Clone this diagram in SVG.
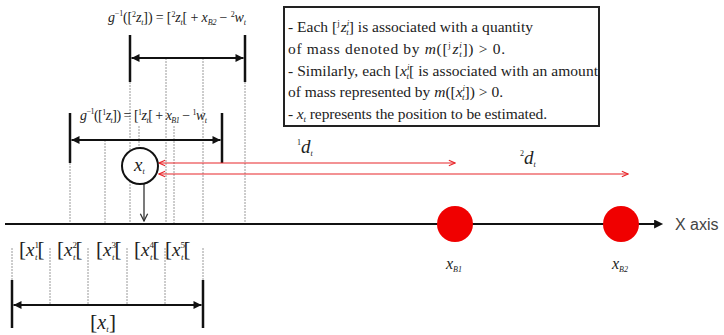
<svg xmlns="http://www.w3.org/2000/svg" width="724" height="335" viewBox="0 0 724 335">
<style>
.m{font-family:"Liberation Serif","Times New Roman",serif;fill:#222}
.it{font-style:italic}
.dot{stroke:#9a9a9a;stroke-width:1;stroke-dasharray:2 1;fill:none}
.thk{stroke:#111;stroke-width:2.5;fill:none}
.br{stroke:#111;stroke-width:2;fill:none;marker-start:url(#ah);marker-end:url(#ah)}
.red{stroke:#e8262a;stroke-width:1.1;fill:none;marker-start:url(#ar);marker-end:url(#ar)}
</style>
<defs>
<marker id="ah" viewBox="0 0 10 10" refX="10" refY="5" markerWidth="5" markerHeight="4" orient="auto-start-reverse" markerUnits="strokeWidth"><path d="M0,0 L10,5 L0,10 z" fill="#111"/></marker>
<marker id="ax" viewBox="0 0 10 10" refX="1" refY="5" markerWidth="5" markerHeight="4.5" orient="auto" markerUnits="strokeWidth"><path d="M0,0 L10,5 L0,10 z" fill="#111"/></marker>
<marker id="ar" viewBox="0 0 10 10" refX="9" refY="5" markerWidth="7" markerHeight="7" orient="auto-start-reverse" markerUnits="strokeWidth"><path d="M1,1.5 L9,5 L1,8.5" fill="none" stroke="#e8262a" stroke-width="1.4"/></marker>
<marker id="ao" viewBox="0 0 10 10" refX="9" refY="5" markerWidth="7" markerHeight="7" orient="auto" markerUnits="strokeWidth"><path d="M1,1 L9,5 L1,9" fill="none" stroke="#333" stroke-width="1.4"/></marker>
</defs>
<rect width="724" height="335" fill="#fff"/>

<g id="guides">
<line class="dot" x1="70" y1="163" x2="70" y2="224"/>
<line class="dot" x1="105" y1="140" x2="105" y2="224"/>
<line class="dot" x1="130" y1="82" x2="130" y2="224"/>
<line class="dot" x1="139" y1="126" x2="139" y2="148"/>
<line class="dot" x1="166" y1="58" x2="166" y2="224"/>
<line class="dot" x1="174" y1="126" x2="174" y2="224"/>
<line class="dot" x1="203" y1="58" x2="203" y2="224"/>
<line class="dot" x1="245" y1="82" x2="245" y2="224"/>
<line class="dot" x1="12" y1="248" x2="12" y2="280"/>
<line class="dot" x1="50" y1="248" x2="50" y2="305"/>
<line class="dot" x1="88" y1="248" x2="88" y2="305"/>
<line class="dot" x1="127" y1="248" x2="127" y2="305"/>
<line class="dot" x1="165" y1="248" x2="165" y2="305"/>
<line class="dot" x1="203" y1="248" x2="203" y2="280"/>
</g>

<g id="interval-g2">
<line class="thk" x1="130" y1="35" x2="130" y2="82"/>
<line class="thk" x1="245" y1="35" x2="245" y2="82"/>
<line class="br" x1="131.5" y1="58" x2="243.5" y2="58"/>
<text class="m" x="108" y="22" font-size="14" textLength="138" lengthAdjust="spacing"><tspan class="it">g</tspan><tspan font-size="8" dy="-6">−1</tspan><tspan dy="6">([</tspan><tspan font-size="8" dy="-5">2</tspan><tspan class="it" dy="5">z</tspan><tspan class="it" font-size="8" dy="3">t</tspan><tspan dy="-3">]) = [</tspan><tspan font-size="8" dy="-5">2</tspan><tspan class="it" dy="5">z</tspan><tspan class="it" font-size="8" dy="3">t</tspan><tspan dy="-3">[ + </tspan><tspan class="it">x</tspan><tspan class="it" font-size="8" dy="3">B2</tspan><tspan dy="-3"> − </tspan><tspan font-size="8" dy="-5">2</tspan><tspan class="it" dy="5">w</tspan><tspan class="it" font-size="8" dy="3">t</tspan></text>
</g>

<g id="interval-g1">
<line class="thk" x1="70" y1="113" x2="70" y2="163"/>
<line class="thk" x1="222" y1="113" x2="222" y2="163"/>
<line class="br" x1="71.5" y1="140" x2="220.5" y2="140"/>
<text class="m" x="80" y="120" font-size="14" textLength="127" lengthAdjust="spacing"><tspan class="it">g</tspan><tspan font-size="8" dy="-6">−1</tspan><tspan dy="6">([</tspan><tspan font-size="8" dy="-5">1</tspan><tspan class="it" dy="5">z</tspan><tspan class="it" font-size="8" dy="3">t</tspan><tspan dy="-3">]) = [</tspan><tspan font-size="8" dy="-5">1</tspan><tspan class="it" dy="5">z</tspan><tspan class="it" font-size="8" dy="3">t</tspan><tspan dy="-3">[ + </tspan><tspan class="it">x</tspan><tspan class="it" font-size="8" dy="3">B1</tspan><tspan dy="-3"> − </tspan><tspan font-size="8" dy="-5">1</tspan><tspan class="it" dy="5">w</tspan><tspan class="it" font-size="8" dy="3">t</tspan></text>
</g>

<g id="x-axis">
<line x1="5" y1="224" x2="655" y2="224" stroke="#111" stroke-width="2" marker-end="url(#ax)"/>
<text x="675" y="230" font-family="Liberation Sans, Arial, sans-serif" font-size="16" fill="#444">X axis</text>
</g>

<g id="connectors">
<line class="red" x1="159" y1="163" x2="455" y2="163"/>
<line class="red" x1="159" y1="174" x2="628" y2="174"/>
<line x1="144" y1="184" x2="144" y2="221" stroke="#333" stroke-width="1.3" marker-end="url(#ao)"/>
<text class="m" x="297" y="153" font-size="19"><tspan font-size="8" dy="-8">1</tspan><tspan class="it" dy="8">d</tspan><tspan class="it" font-size="8" dy="3">t</tspan></text>
<text class="m" x="520" y="164" font-size="19"><tspan font-size="8" dy="-8">2</tspan><tspan class="it" dy="8">d</tspan><tspan class="it" font-size="8" dy="3">t</tspan></text>
</g>

<g id="estimate-xt">
<circle cx="140" cy="166" r="18" fill="#fff" stroke="#111" stroke-width="2"/>
<text class="m" x="134" y="171" font-size="19"><tspan class="it">x</tspan><tspan class="it" font-size="8" dy="3">t</tspan></text>
</g>

<g id="beacon-B1">
<circle cx="455" cy="224" r="18" fill="#f00000"/>
<text class="m" x="446" y="269" font-size="16"><tspan class="it">x</tspan><tspan class="it" font-size="8" dy="3">B1</tspan></text>
</g>

<g id="beacon-B2">
<circle cx="621" cy="224" r="18" fill="#f00000"/>
<text class="m" x="612" y="269" font-size="16"><tspan class="it">x</tspan><tspan class="it" font-size="8" dy="3">B2</tspan></text>
</g>

<g id="info-box">
<rect x="284" y="7" width="315" height="119" fill="#fff" stroke="#222" stroke-width="2"/>
<text class="m" x="288" y="32" font-size="15.5" textLength="245" lengthAdjust="spacing">- Each [<tspan font-size="9" dy="-6">j</tspan><tspan class="it" dx="1" dy="6">z</tspan><tspan class="it" font-size="9" dy="-6">i</tspan><tspan class="it" font-size="9" dx="-3" dy="9">t</tspan><tspan dy="-3">] is associated with a quantity</tspan></text>
<text class="m" x="288" y="54" font-size="15.5" textLength="217" lengthAdjust="spacing">of mass denoted by <tspan class="it">m</tspan>([<tspan font-size="9" dy="-6">j</tspan><tspan class="it" dx="1" dy="6">z</tspan><tspan class="it" font-size="9" dy="-6">i</tspan><tspan class="it" font-size="9" dx="-3" dy="9">t</tspan><tspan dy="-3">]) &gt; 0.</tspan></text>
<text class="m" x="288" y="76" font-size="15.5" textLength="310" lengthAdjust="spacing">- Similarly, each [<tspan class="it">x</tspan><tspan class="it" font-size="9" dy="-6">i</tspan><tspan class="it" font-size="9" dx="-3" dy="9">t</tspan><tspan dy="-3">[ is associated with an amount</tspan></text>
<text class="m" x="288" y="97" font-size="15.5" textLength="215" lengthAdjust="spacing">of mass represented by <tspan class="it">m</tspan>([<tspan class="it">x</tspan><tspan class="it" font-size="9" dy="-6">i</tspan><tspan class="it" font-size="9" dx="-3" dy="9">t</tspan><tspan dy="-3">]) &gt; 0.</tspan></text>
<text class="m" x="288" y="119" font-size="15.5" textLength="259" lengthAdjust="spacing">- <tspan class="it">x</tspan><tspan class="it" font-size="9" dy="3">t</tspan><tspan dy="-3"> represents the position to be estimated.</tspan></text>
</g>

<g id="boxes-xt">
<text class="m" x="19" y="256" font-size="21">[<tspan class="it" font-size="19">x</tspan><tspan font-size="9" dy="-8">1</tspan><tspan class="it" font-size="9" dx="-4" dy="12">t</tspan><tspan dy="-4">[</tspan></text>
<text class="m" x="57" y="256" font-size="21">[<tspan class="it" font-size="19">x</tspan><tspan font-size="9" dy="-8">2</tspan><tspan class="it" font-size="9" dx="-4" dy="12">t</tspan><tspan dy="-4">[</tspan></text>
<text class="m" x="96" y="256" font-size="21">[<tspan class="it" font-size="19">x</tspan><tspan font-size="9" dy="-8">3</tspan><tspan class="it" font-size="9" dx="-4" dy="12">t</tspan><tspan dy="-4">[</tspan></text>
<text class="m" x="134" y="256" font-size="21">[<tspan class="it" font-size="19">x</tspan><tspan font-size="9" dy="-8">4</tspan><tspan class="it" font-size="9" dx="-4" dy="12">t</tspan><tspan dy="-4">[</tspan></text>
<text class="m" x="165" y="256" font-size="21">[<tspan class="it" font-size="19">x</tspan><tspan font-size="9" dy="-8">5</tspan><tspan class="it" font-size="9" dx="-4" dy="12">t</tspan><tspan dy="-4">[</tspan></text>
</g>

<g id="interval-xt">
<line class="thk" x1="12" y1="280" x2="12" y2="328"/>
<line class="thk" x1="203" y1="280" x2="203" y2="328"/>
<line class="br" x1="13.5" y1="305" x2="201.5" y2="305"/>
<text class="m" x="90" y="329" font-size="22">[<tspan class="it" font-size="20">x</tspan><tspan class="it" font-size="9" dy="3">t</tspan><tspan dy="-3">]</tspan></text>
</g>
</svg>
